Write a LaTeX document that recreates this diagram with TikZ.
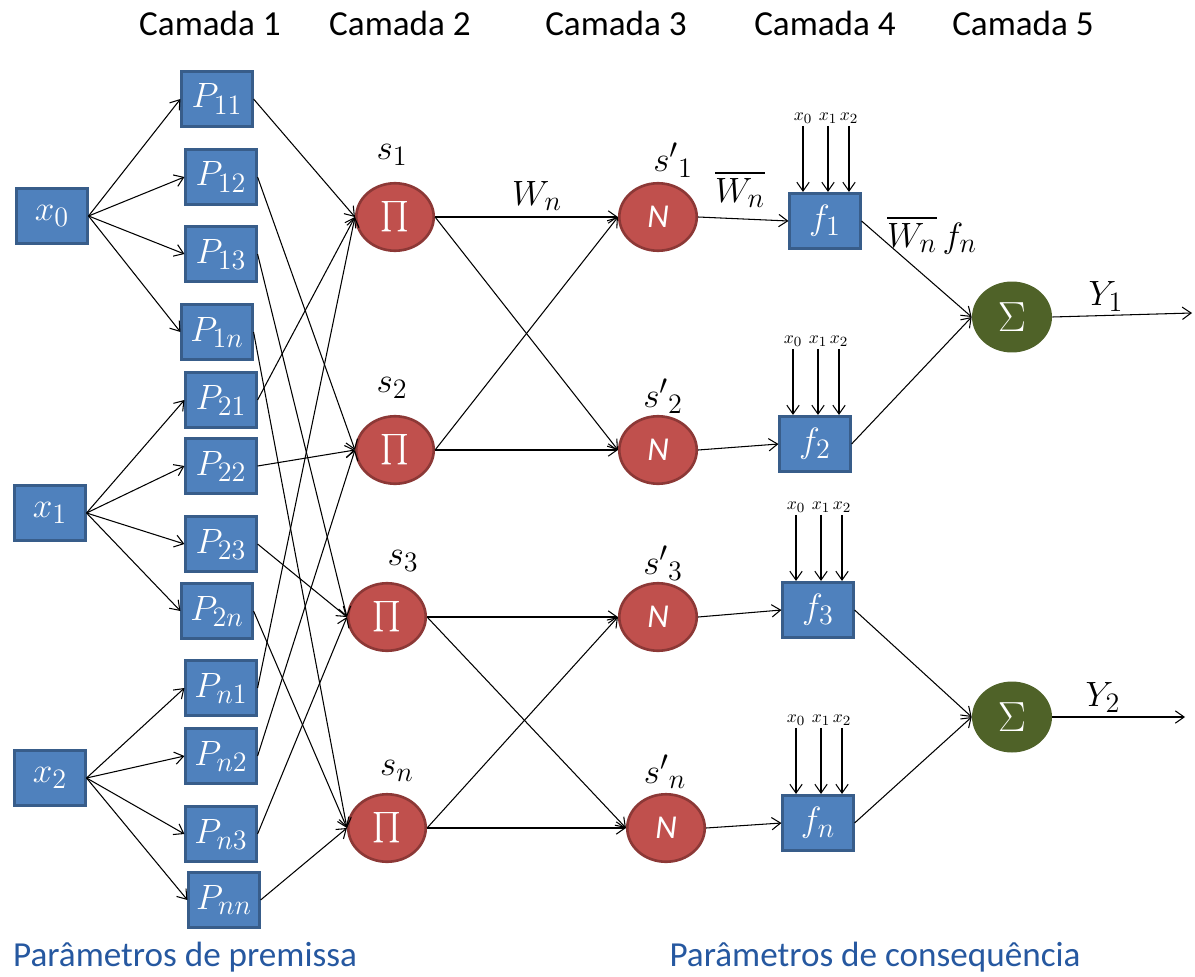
\RequirePackage{fix-cm}
\documentclass[tikz,border=0pt]{standalone}
\usepackage{amsmath}
\usepackage{fontspec}
\setmainfont{Carlito}
\usetikzlibrary{shapes.geometric,arrows.meta}
\DeclareMathSizes{20}{20}{16}{12}
\DeclareMathSizes{10}{10}{8}{6}

\definecolor{boxblue}{HTML}{4F81BD}
\definecolor{boxline}{HTML}{385D8A}
\definecolor{rulered}{HTML}{C0504D}
\definecolor{ruleline}{HTML}{8C3836}
\definecolor{sumgreen}{HTML}{4F6228}
\definecolor{parblue}{RGB}{38,88,160}

\tikzset{
  mf/.style={rectangle, fill=boxblue, draw=boxline, line width=1.5pt,
    minimum width=1.41cm, minimum height=1.11cm, inner sep=0pt,
    text=white, font=\fontsize{20}{20}\selectfont},
  rule/.style={ellipse, fill=rulered, draw=ruleline, line width=1.5pt,
    minimum width=1.55cm, minimum height=1.35cm, inner sep=0pt,
    text=white, font=\fontsize{18}{18}\selectfont},
  sumnode/.style={ellipse, fill=sumgreen, minimum width=1.6cm,
    minimum height=1.42cm, inner sep=0pt, text=white,
    font=\fontsize{24}{24}\selectfont},
  lab/.style={inner sep=0pt, font=\fontsize{20}{20}\selectfont},
  xin/.style={inner sep=1pt, font=\fontsize{10}{10}\selectfont},
  title/.style={inner sep=0pt, anchor=base, font=\fontsize{20}{24}\selectfont},
  wire/.style={line width=0.6pt, -{Straight Barb[length=5pt,width=7pt]}}
}

\begin{document}
\begin{tikzpicture}[x=0.02cm,y=-0.02cm]
\useasboundingbox (0,0) rectangle (1195,976);

% layer titles
\foreach \x/\k in {210/1,400/2,616/3,825/4,1023/5}
  \node[title] (cam\k) at (\x,36) {Camada \k};

% inputs
\node[mf] (x0) at (52,216) {$x_0$};
\node[mf] (x1) at (50,513) {$x_1$};
\node[mf] (x2) at (50,778) {$x_2$};

% layer 1: premise functions
\node[mf] (P11) at (217,99)  {$P_{11}$};
\node[mf] (P12) at (221,177) {$P_{12}$};
\node[mf] (P13) at (221,254) {$P_{13}$};
\node[mf] (P1n) at (217,332) {$P_{1n}$};
\node[mf] (P21) at (221,400) {$P_{21}$};
\node[mf] (P22) at (221,466) {$P_{22}$};
\node[mf] (P23) at (221,544) {$P_{23}$};
\node[mf] (P2n) at (217,611) {$P_{2n}$};
\node[mf] (Pn1) at (221,688) {$P_{n1}$};
\node[mf] (Pn2) at (221,756) {$P_{n2}$};
\node[mf] (Pn3) at (221,834) {$P_{n3}$};
\node[mf] (Pnn) at (224,900) {$P_{nn}$};

\foreach \p in {11,12,13,1n} \draw[wire] (x0.east) -- (P\p.west);
\foreach \p in {21,22,23,2n} \draw[wire] (x1.east) -- (P\p.west);
\foreach \p in {n1,n2,n3,nn} \draw[wire] (x2.east) -- (P\p.west);

% layer 2: rule products
\node[rule] (s1) at (395,217) {$\prod$};
\node[rule] (s2) at (395,450) {$\prod$};
\node[rule] (s3) at (387,617) {$\prod$};
\node[rule] (sn) at (387,828) {$\prod$};
\node[lab] (s1lab) at (392,155) {$s_1$};
\node[lab] (s2lab) at (392,388) {$s_2$};
\node[lab] (s3lab) at (403,561) {$s_3$};
\node[lab] (snlab) at (397,771) {$s_n$};

\foreach \p/\s in {11/s1,21/s1,n1/s1,12/s2,22/s2,n2/s2,
                   13/s3,23/s3,n3/s3,1n/sn,2n/sn,nn/sn}
  \draw[wire] (P\p.east) -- (\s.west);

% layer 3: normalisation
\node[rule,font=\fontsize{19}{19}\selectfont\itshape] (N1) at (658,217) {N};
\node[rule,font=\fontsize{19}{19}\selectfont\itshape] (N2) at (658,450) {N};
\node[rule,font=\fontsize{19}{19}\selectfont\itshape] (N3) at (658,617) {N};
\node[rule,font=\fontsize{19}{19}\selectfont\itshape] (Nn) at (666,828) {N};
\node[lab] (N1lab) at (673,160) {${s'}_1$};
\node[lab] (N2lab) at (663,396) {${s'}_2$};
\node[lab] (N3lab) at (663,563) {${s'}_3$};
\node[lab] (Nnlab) at (665,772) {${s'}_n$};

\foreach \s/\n in {s1/N1,s1/N2,s2/N1,s2/N2,s3/N3,s3/Nn,sn/N3,sn/Nn}
  \draw[wire] (\s.east) -- (\n.west);

\node[lab] (wlab) at (537,196) {$W_n$};

% layer 4: consequent functions
\node[mf] (f1) at (825,221) {$f_1$};
\node[mf] (f2) at (815,444) {$f_2$};
\node[mf] (f3) at (818,610) {$f_3$};
\node[mf] (fn) at (818,823) {$f_n$};

\foreach \n/\f in {N1/f1,N2/f2,N3/f3,Nn/fn}
  \draw[wire] (\n.east) -- (\f.west);

\foreach \f in {f1,f2,f3,fn}
  \foreach \i/\dx in {0/-22,1/3,2/24} {
    \coordinate (\f-x\i) at ([shift={(\dx,-66)}]\f.north);
    \draw[wire] (\f-x\i) node[xin,above] (\f-l\i) {$x_\i$}
      -- ([shift={(\dx,0)}]\f.north);
  }

\node[lab] (wbar) at (740,189) {$\overline{W_n}$};
\node[lab] (wfbar) at (932,235) {$\overline{W_n}\,f_n$};

% layer 5: outputs
\node[sumnode] (S1) at (1012,317) {$\Sigma$};
\node[sumnode] (S2) at (1012,717) {$\Sigma$};
\coordinate (Y1end) at (1192,313);
\coordinate (Y2end) at (1185,717);

\foreach \f/\s in {f1/S1,f2/S1,f3/S2,fn/S2}
  \draw[wire] (\f.east) -- (\s.west);
\draw[wire] (S1.east) -- (Y1end);
\draw[wire] (S2.east) -- (Y2end);
\node[lab] (Y1lab) at (1106,296) {$Y_1$};
\node[lab] (Y2lab) at (1103,697) {$Y_2$};

% parameter groups
\node[title,text=parblue] (prem) at (185,966) {Parâmetros de premissa};
\node[title,text=parblue] (cons) at (875,966) {Parâmetros de consequência};

\end{tikzpicture}
\end{document}
